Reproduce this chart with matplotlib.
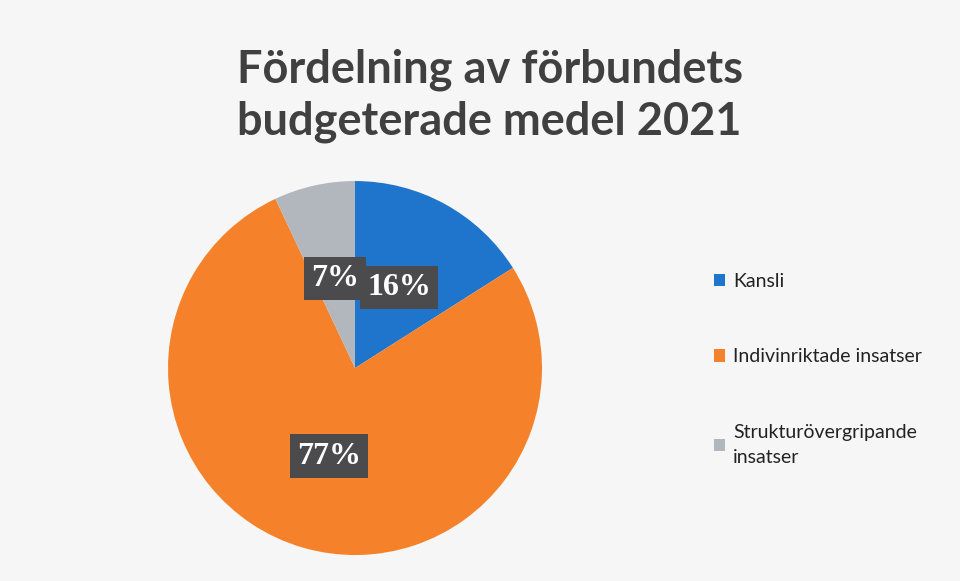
import matplotlib.pyplot as plt
from matplotlib.patches import Patch

categories = ['Kansli', 'Indivinriktade insatser', 'Strukturövergripande\ninsatser']
shares = [16, 77, 7]
colors = ['#1f74cc', '#f5822b', '#b2b6bd']
title = 'Fördelning av förbundets\nbudgeterade medel 2021'

fig = plt.figure(figsize=(9.6, 5.81), dpi=100)
fig.patch.set_facecolor('#f6f6f6')

ax = fig.add_axes([0.175, 0.0447, 0.3896, 0.6437])
wedges, texts, autotexts = ax.pie(
    shares, colors=colors, startangle=90, counterclock=False,
    autopct='%d%%', pctdistance=0.49,
    textprops=dict(color='white', fontsize=23, fontweight='bold', family='Liberation Serif'))
for t in autotexts:
    t.set_bbox(dict(boxstyle='square,pad=0.22', facecolor='#4b4b4d', edgecolor='none'))
ax.set_xlim(-1, 1)
ax.set_ylim(-1, 1)
ax.set_aspect('equal')

fig.text(0.51, 0.835, title, ha='center', va='center', fontsize=32.5, fontweight='bold',
         family='Lato', color='#404040', linespacing=1.3)

handles = [Patch(facecolor=c, edgecolor='none') for c in colors]
leg = fig.legend(handles, categories, loc='upper left', bbox_to_anchor=(0.725, 0.56),
                 frameon=False, labelspacing=3.0, handlelength=0.6,
                 handleheight=0.6, handletextpad=0.4, prop=dict(family='Lato', size=14))
for t in leg.get_texts():
    t.set_linespacing(1.6)
    t.set_color('#222222')

fig.savefig('out.png', dpi=100, facecolor=fig.get_facecolor())
